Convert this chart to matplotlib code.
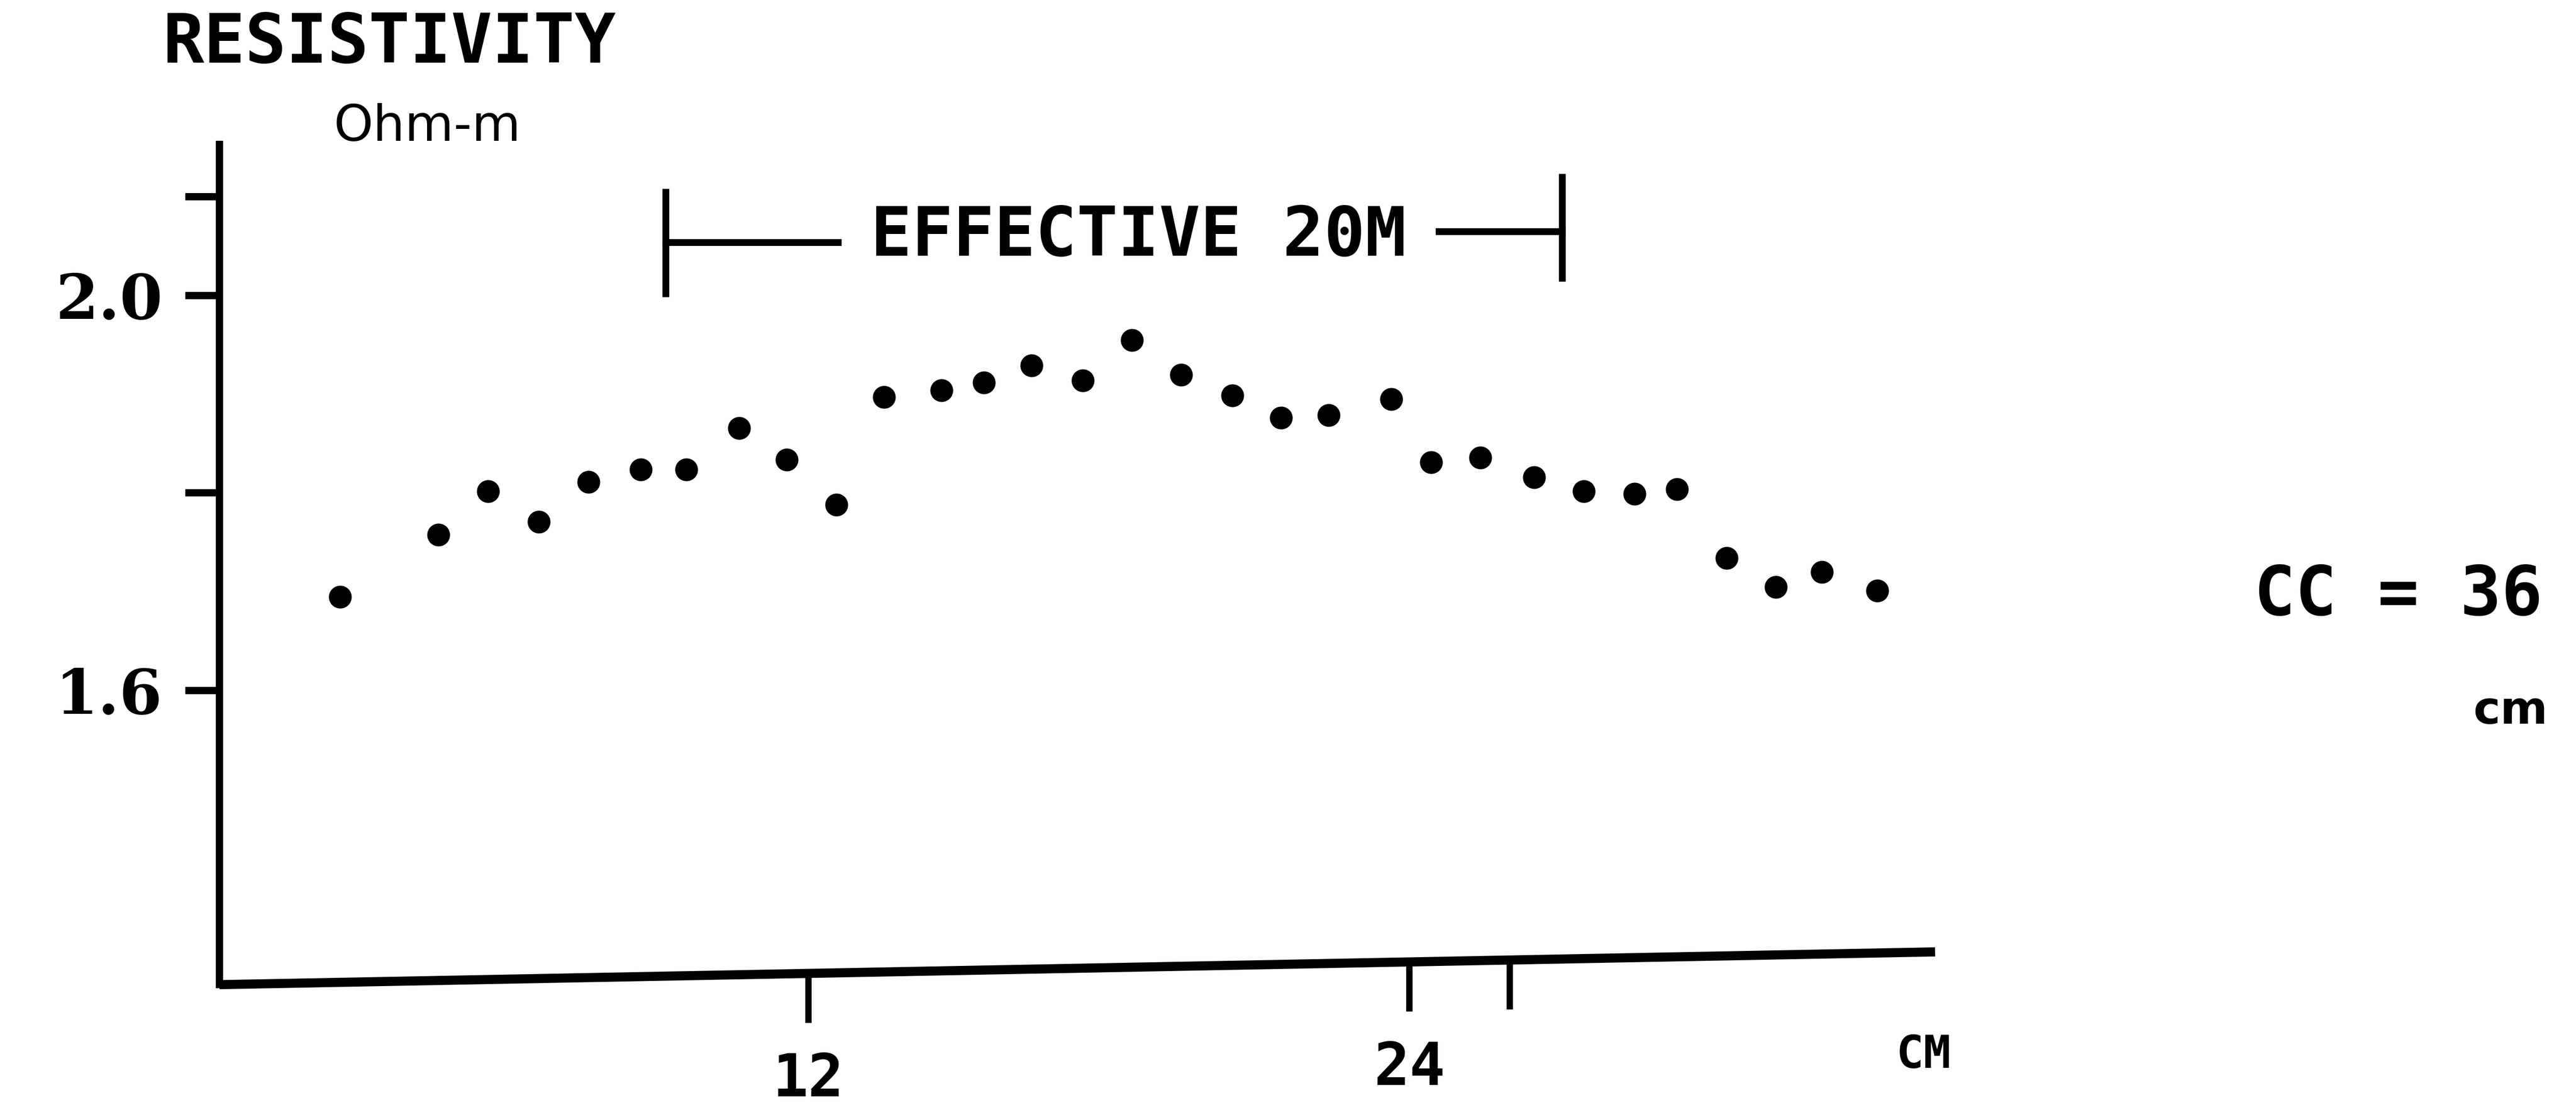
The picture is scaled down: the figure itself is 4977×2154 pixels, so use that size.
import matplotlib
matplotlib.use("Agg")
import matplotlib.pyplot as plt
import matplotlib.transforms as mtransforms

# Resistivity profile
distance = [2.66, 4.62, 5.61, 6.62, 7.61, 8.66, 9.57, 10.62, 11.57, 12.56,
            13.51, 14.66, 15.51, 16.46, 17.48, 18.46, 19.44, 20.46, 21.44, 22.39,
            23.64, 24.43, 25.41, 26.49, 27.48, 28.49, 29.34, 30.33, 31.31, 32.23,
            33.34]
resistivity = [1.695, 1.758, 1.802, 1.771, 1.811, 1.824, 1.824, 1.866, 1.834, 1.788,
               1.897, 1.904, 1.912, 1.929, 1.914, 1.955, 1.920, 1.899, 1.876, 1.879,
               1.895, 1.831, 1.836, 1.816, 1.802, 1.799, 1.804, 1.734, 1.705, 1.720,
               1.701]

xticks = [12, 24, 26]
xtick_labels = ["12", "24", ""]
yticks = [1.6, 1.8, 2.0, 2.1]
ytick_labels = ["1.6", "", "2.0", ""]

# "effective" bracket (cm) and its label
effective_span = [9.15, 27.05]
effective_gap = [12.59, 24.59]
effective_y = [2.054, 2.065]
effective_label = "EFFECTIVE 20M"

mono = "DejaVu Sans Mono"

fig = plt.figure(figsize=(4977 / 317.4, 2154 / 317.4), dpi=317.4)
ax = fig.add_axes([0.0852, 0.1169, 0.666, 0.7535])

ax.plot(distance, resistivity, "o", color="black", markersize=9, zorder=3)
ax.set_xlim(0.25, 34.49)
ax.set_ylim(1.302, 2.153)

for s in ["top", "right", "bottom"]:
    ax.spines[s].set_visible(False)
ax.spines["left"].set_linewidth(3.2)

# y axis ticks
ax.set_yticks(yticks)
ax.set_yticklabels(ytick_labels, fontfamily="DejaVu Serif", fontweight="bold", fontsize=27)
ax.tick_params(axis="y", length=15, width=3.2, pad=10)
ax.set_xticks([])

# the base line on the original is slightly tilted
slope = 0.039
ax.plot([0, 1], [0, slope], transform=ax.transAxes, color="black", lw=4,
        clip_on=False, solid_capstyle="butt")

trans = mtransforms.blended_transform_factory(ax.transData, ax.transAxes)
x0, x1 = ax.get_xlim()
for t, lab in zip(xticks, xtick_labels):
    base = slope * (t - x0) / (x1 - x0)
    ax.plot([t, t], [base, base - 0.055], transform=trans, color="black", lw=2.8,
            clip_on=False)
    if lab:
        ax.text(t, base - 0.127, lab, transform=trans, ha="center", va="center",
                fontsize=26, fontweight="bold", family=mono)
cm_x = 34.26
ax.text(cm_x, slope * (cm_x - x0) / (x1 - x0) - 0.123, "CM", transform=trans,
        ha="center", va="center", fontsize=20, fontweight="bold", family=mono)

# effective bracket
ax.plot([effective_span[0], effective_span[0]], [effective_y[0] - 0.052, effective_y[0] + 0.051],
        color="black", lw=3, clip_on=False)
ax.plot([effective_span[1], effective_span[1]], [effective_y[1] - 0.047, effective_y[1] + 0.055],
        color="black", lw=3, clip_on=False)
ax.plot([effective_span[0], effective_gap[0]], [effective_y[0], effective_y[0]],
        color="black", lw=3, clip_on=False)
ax.plot([effective_gap[1], effective_span[1]], [effective_y[1], effective_y[1]],
        color="black", lw=3, clip_on=False)
ax.text(sum(effective_gap) / 2, sum(effective_y) / 2, effective_label, ha="center",
        va="center", fontsize=30, fontweight="bold", family=mono)

# labels around the plot
fig.text(0.0631, 0.961, "RESISTIVITY", ha="left", va="center", fontsize=30,
         fontweight="bold", family=mono)
fig.text(0.1295, 0.886, "Ohm-m", ha="left", va="center", fontsize=22, family="DejaVu Sans")
fig.text(0.875, 0.4654, "CC = 36", ha="left", va="center", fontsize=30,
         fontweight="bold", family=mono)
fig.text(0.960, 0.362, "cm", ha="left", va="center", fontsize=20,
         fontweight="bold", family="DejaVu Sans")

fig.savefig("out.png", dpi=317.4, facecolor="white")
